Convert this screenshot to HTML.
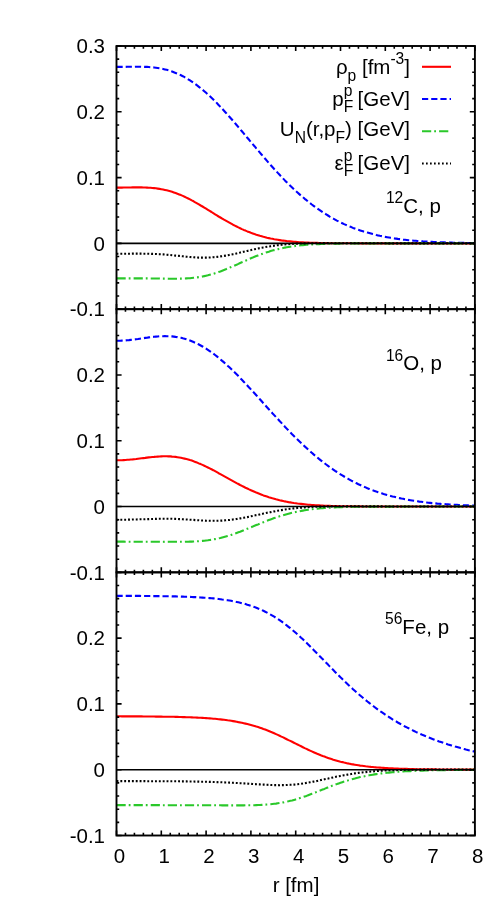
<!DOCTYPE html>
<html><head><meta charset="utf-8"><title>plot</title>
<style>html,body{margin:0;padding:0;background:#fff;overflow:hidden}body{width:498px;height:913px;position:relative;font-family:"Liberation Sans",sans-serif}</style>
</head><body>
<svg width="498" height="913" viewBox="0 0 498 913" style="display:block;position:absolute;left:0;top:0" font-family="'Liberation Sans', sans-serif" font-size="20.5" fill="#000">
<rect x="0" y="0" width="498" height="913" fill="#fff"/>
<defs><filter id="g" x="-5%" y="-5%" width="110%" height="110%" color-interpolation-filters="sRGB"><feColorMatrix type="saturate" values="0"/></filter><clipPath id="c0"><rect x="116.50" y="46.00" width="358.40" height="263.17"/></clipPath>
<clipPath id="c1"><rect x="116.50" y="309.17" width="358.40" height="263.17"/></clipPath>
<clipPath id="c2"><rect x="116.50" y="572.33" width="358.40" height="263.17"/></clipPath></defs>
<g clip-path="url(#c0)" fill="none" stroke-linejoin="round">
<path d="M116.5,187.6 L118.3,187.6 L120.1,187.6 L121.9,187.6 L123.7,187.5 L125.5,187.5 L127.3,187.5 L129.0,187.5 L130.8,187.5 L132.6,187.4 L134.4,187.4 L136.2,187.4 L138.0,187.4 L139.8,187.4 L141.6,187.4 L143.4,187.5 L145.2,187.5 L147.0,187.6 L148.8,187.7 L150.5,187.8 L152.3,188.0 L154.1,188.1 L155.9,188.3 L157.7,188.6 L159.5,188.9 L161.3,189.2 L163.1,189.5 L164.9,189.9 L166.7,190.3 L168.5,190.8 L170.3,191.3 L172.1,191.8 L173.8,192.4 L175.6,193.0 L177.4,193.7 L179.2,194.4 L181.0,195.1 L182.8,195.9 L184.6,196.7 L186.4,197.6 L188.2,198.5 L190.0,199.4 L191.8,200.4 L193.6,201.3 L195.3,202.3 L197.1,203.3 L198.9,204.4 L200.7,205.5 L202.5,206.5 L204.3,207.6 L206.1,208.7 L207.9,209.8 L209.7,210.9 L211.5,212.0 L213.3,213.2 L215.1,214.3 L216.9,215.4 L218.6,216.5 L220.4,217.5 L222.2,218.6 L224.0,219.7 L225.8,220.7 L227.6,221.7 L229.4,222.7 L231.2,223.7 L233.0,224.7 L234.8,225.6 L236.6,226.5 L238.4,227.4 L240.1,228.2 L241.9,229.1 L243.7,229.9 L245.5,230.6 L247.3,231.4 L249.1,232.1 L250.9,232.8 L252.7,233.4 L254.5,234.1 L256.3,234.7 L258.1,235.2 L259.9,235.8 L261.7,236.3 L263.4,236.8 L265.2,237.2 L267.0,237.7 L268.8,238.1 L270.6,238.5 L272.4,238.8 L274.2,239.2 L276.0,239.5 L277.8,239.8 L279.6,240.1 L281.4,240.4 L283.2,240.6 L284.9,240.8 L286.7,241.1 L288.5,241.2 L290.3,241.4 L292.1,241.6 L293.9,241.8 L295.7,241.9 L297.5,242.0 L299.3,242.2 L301.1,242.3 L302.9,242.4 L304.7,242.5 L306.5,242.6 L308.2,242.6 L310.0,242.7 L311.8,242.8 L313.6,242.8 L315.4,242.9 L317.2,242.9 L319.0,243.0 L320.8,243.0 L322.6,243.1 L324.4,243.1 L326.2,243.1 L328.0,243.2 L329.7,243.2 L331.5,243.2 L333.3,243.2 L335.1,243.2 L336.9,243.3 L338.7,243.3 L340.5,243.3 L342.3,243.3 L344.1,243.3 L345.9,243.3 L347.7,243.3 L349.5,243.3 L351.3,243.3 L353.0,243.3 L354.8,243.3 L356.6,243.3 L358.4,243.3 L360.2,243.4 L362.0,243.4 L363.8,243.4 L365.6,243.4 L367.4,243.4 L369.2,243.4 L371.0,243.4 L372.8,243.4 L374.5,243.4 L376.3,243.4 L378.1,243.4 L379.9,243.4 L381.7,243.4 L383.5,243.4 L385.3,243.4 L387.1,243.4 L388.9,243.4 L390.7,243.4 L392.5,243.4 L394.3,243.4 L396.1,243.4 L397.8,243.4 L399.6,243.4 L401.4,243.4 L403.2,243.4 L405.0,243.4 L406.8,243.4 L408.6,243.4 L410.4,243.4 L412.2,243.4 L414.0,243.4 L415.8,243.4 L417.6,243.4 L419.3,243.4 L421.1,243.4 L422.9,243.4 L424.7,243.4 L426.5,243.4 L428.3,243.4 L430.1,243.4 L431.9,243.4 L433.7,243.4 L435.5,243.4 L437.3,243.4 L439.1,243.4 L440.9,243.4 L442.6,243.4 L444.4,243.4 L446.2,243.4 L448.0,243.4 L449.8,243.4 L451.6,243.4 L453.4,243.4 L455.2,243.4 L457.0,243.4 L458.8,243.4 L460.6,243.4 L462.4,243.4 L464.1,243.4 L465.9,243.4 L467.7,243.4 L469.5,243.4 L471.3,243.4 L473.1,243.4 L474.9,243.4" stroke="#ff0000" stroke-width="2.1"/>
<path d="M116.5,66.9 L118.3,66.9 L120.1,66.9 L121.9,66.9 L123.7,66.9 L125.5,66.9 L127.3,66.8 L129.0,66.8 L130.8,66.8 L132.6,66.8 L134.4,66.8 L136.2,66.7 L138.0,66.7 L139.8,66.7 L141.6,66.8 L143.4,66.8 L145.2,66.9 L147.0,66.9 L148.8,67.0 L150.5,67.2 L152.3,67.3 L154.1,67.5 L155.9,67.7 L157.7,68.0 L159.5,68.3 L161.3,68.6 L163.1,69.0 L164.9,69.4 L166.7,69.8 L168.5,70.3 L170.3,70.9 L172.1,71.5 L173.8,72.2 L175.6,72.9 L177.4,73.6 L179.2,74.4 L181.0,75.3 L182.8,76.2 L184.6,77.2 L186.4,78.2 L188.2,79.3 L190.0,80.4 L191.8,81.6 L193.6,82.8 L195.3,84.1 L197.1,85.4 L198.9,86.8 L200.7,88.2 L202.5,89.7 L204.3,91.2 L206.1,92.8 L207.9,94.4 L209.7,96.1 L211.5,97.8 L213.3,99.5 L215.1,101.3 L216.9,103.1 L218.6,105.0 L220.4,106.9 L222.2,108.8 L224.0,110.7 L225.8,112.7 L227.6,114.7 L229.4,116.7 L231.2,118.7 L233.0,120.8 L234.8,122.9 L236.6,125.0 L238.4,127.1 L240.1,129.2 L241.9,131.3 L243.7,133.4 L245.5,135.6 L247.3,137.7 L249.1,139.8 L250.9,142.0 L252.7,144.1 L254.5,146.2 L256.3,148.4 L258.1,150.5 L259.9,152.6 L261.7,154.7 L263.4,156.8 L265.2,158.8 L267.0,160.9 L268.8,163.0 L270.6,165.0 L272.4,167.0 L274.2,169.0 L276.0,170.9 L277.8,172.9 L279.6,174.8 L281.4,176.7 L283.2,178.6 L284.9,180.4 L286.7,182.2 L288.5,184.0 L290.3,185.8 L292.1,187.5 L293.9,189.2 L295.7,190.9 L297.5,192.5 L299.3,194.1 L301.1,195.7 L302.9,197.2 L304.7,198.8 L306.5,200.2 L308.2,201.7 L310.0,203.1 L311.8,204.5 L313.6,205.8 L315.4,207.2 L317.2,208.5 L319.0,209.7 L320.8,210.9 L322.6,212.1 L324.4,213.3 L326.2,214.4 L328.0,215.5 L329.7,216.6 L331.5,217.6 L333.3,218.6 L335.1,219.6 L336.9,220.6 L338.7,221.5 L340.5,222.4 L342.3,223.2 L344.1,224.1 L345.9,224.9 L347.7,225.7 L349.5,226.4 L351.3,227.1 L353.0,227.9 L354.8,228.5 L356.6,229.2 L358.4,229.8 L360.2,230.4 L362.0,231.0 L363.8,231.6 L365.6,232.1 L367.4,232.6 L369.2,233.1 L371.0,233.6 L372.8,234.1 L374.5,234.5 L376.3,235.0 L378.1,235.4 L379.9,235.8 L381.7,236.1 L383.5,236.5 L385.3,236.9 L387.1,237.2 L388.9,237.5 L390.7,237.8 L392.5,238.1 L394.3,238.4 L396.1,238.6 L397.8,238.9 L399.6,239.1 L401.4,239.3 L403.2,239.6 L405.0,239.8 L406.8,240.0 L408.6,240.2 L410.4,240.3 L412.2,240.5 L414.0,240.7 L415.8,240.8 L417.6,241.0 L419.3,241.1 L421.1,241.2 L422.9,241.4 L424.7,241.5 L426.5,241.6 L428.3,241.7 L430.1,241.8 L431.9,241.9 L433.7,242.0 L435.5,242.1 L437.3,242.1 L439.1,242.2 L440.9,242.3 L442.6,242.4 L444.4,242.4 L446.2,242.5 L448.0,242.5 L449.8,242.6 L451.6,242.6 L453.4,242.7 L455.2,242.7 L457.0,242.8 L458.8,242.8 L460.6,242.9 L462.4,242.9 L464.1,242.9 L465.9,242.9 L467.7,243.0 L469.5,243.0 L471.3,243.0 L473.1,243.1 L474.9,243.1" stroke="#0000ff" stroke-width="2.1" stroke-dasharray="6.2 3"/>
<path d="M116.5,278.4 L118.3,278.4 L120.1,278.4 L121.9,278.4 L123.7,278.4 L125.5,278.4 L127.3,278.4 L129.0,278.4 L130.8,278.4 L132.6,278.4 L134.4,278.4 L136.2,278.4 L138.0,278.4 L139.8,278.4 L141.6,278.4 L143.4,278.4 L145.2,278.4 L147.0,278.4 L148.8,278.4 L150.5,278.5 L152.3,278.5 L154.1,278.5 L155.9,278.5 L157.7,278.5 L159.5,278.5 L161.3,278.6 L163.1,278.6 L164.9,278.6 L166.7,278.6 L168.5,278.7 L170.3,278.7 L172.1,278.7 L173.8,278.7 L175.6,278.7 L177.4,278.7 L179.2,278.6 L181.0,278.6 L182.8,278.6 L184.6,278.5 L186.4,278.4 L188.2,278.3 L190.0,278.2 L191.8,278.0 L193.6,277.8 L195.3,277.6 L197.1,277.4 L198.9,277.1 L200.7,276.8 L202.5,276.5 L204.3,276.1 L206.1,275.7 L207.9,275.3 L209.7,274.8 L211.5,274.3 L213.3,273.8 L215.1,273.2 L216.9,272.6 L218.6,272.0 L220.4,271.4 L222.2,270.7 L224.0,270.0 L225.8,269.3 L227.6,268.5 L229.4,267.8 L231.2,267.0 L233.0,266.2 L234.8,265.4 L236.6,264.7 L238.4,263.9 L240.1,263.0 L241.9,262.2 L243.7,261.4 L245.5,260.7 L247.3,259.9 L249.1,259.1 L250.9,258.3 L252.7,257.6 L254.5,256.8 L256.3,256.1 L258.1,255.4 L259.9,254.7 L261.7,254.1 L263.4,253.5 L265.2,252.8 L267.0,252.2 L268.8,251.7 L270.6,251.1 L272.4,250.6 L274.2,250.1 L276.0,249.7 L277.8,249.2 L279.6,248.8 L281.4,248.4 L283.2,248.0 L284.9,247.6 L286.7,247.3 L288.5,247.0 L290.3,246.7 L292.1,246.4 L293.9,246.2 L295.7,245.9 L297.5,245.7 L299.3,245.5 L301.1,245.3 L302.9,245.1 L304.7,245.0 L306.5,244.8 L308.2,244.7 L310.0,244.6 L311.8,244.4 L313.6,244.3 L315.4,244.2 L317.2,244.2 L319.0,244.1 L320.8,244.0 L322.6,243.9 L324.4,243.9 L326.2,243.8 L328.0,243.8 L329.7,243.7 L331.5,243.7 L333.3,243.7 L335.1,243.6 L336.9,243.6 L338.7,243.6 L340.5,243.5 L342.3,243.5 L344.1,243.5 L345.9,243.5 L347.7,243.5 L349.5,243.5 L351.3,243.5 L353.0,243.4 L354.8,243.4 L356.6,243.4 L358.4,243.4 L360.2,243.4 L362.0,243.4 L363.8,243.4 L365.6,243.4 L367.4,243.4 L369.2,243.4 L371.0,243.4 L372.8,243.4 L374.5,243.4 L376.3,243.4 L378.1,243.4 L379.9,243.4 L381.7,243.4 L383.5,243.4 L385.3,243.4 L387.1,243.4 L388.9,243.4 L390.7,243.4 L392.5,243.4 L394.3,243.4 L396.1,243.4 L397.8,243.4 L399.6,243.4 L401.4,243.4 L403.2,243.4 L405.0,243.4 L406.8,243.4 L408.6,243.4 L410.4,243.4 L412.2,243.4 L414.0,243.4 L415.8,243.4 L417.6,243.4 L419.3,243.4 L421.1,243.4 L422.9,243.4 L424.7,243.4 L426.5,243.4 L428.3,243.4 L430.1,243.4 L431.9,243.4 L433.7,243.4 L435.5,243.4 L437.3,243.4 L439.1,243.4 L440.9,243.4 L442.6,243.4 L444.4,243.4 L446.2,243.4 L448.0,243.4 L449.8,243.4 L451.6,243.4 L453.4,243.4 L455.2,243.4 L457.0,243.4 L458.8,243.4 L460.6,243.4 L462.4,243.4 L464.1,243.4 L465.9,243.4 L467.7,243.4 L469.5,243.4 L471.3,243.4 L473.1,243.4 L474.9,243.4" stroke="#2ac82a" stroke-width="2.1" stroke-dasharray="9.2 3 1.8 3.1"/>
<path d="M116.5,253.7 L118.3,253.7 L120.1,253.7 L121.9,253.7 L123.7,253.7 L125.5,253.7 L127.3,253.7 L129.0,253.7 L130.8,253.7 L132.6,253.6 L134.4,253.6 L136.2,253.6 L138.0,253.6 L139.8,253.6 L141.6,253.6 L143.4,253.7 L145.2,253.7 L147.0,253.7 L148.8,253.7 L150.5,253.8 L152.3,253.9 L154.1,253.9 L155.9,254.0 L157.7,254.1 L159.5,254.2 L161.3,254.3 L163.1,254.4 L164.9,254.6 L166.7,254.7 L168.5,254.9 L170.3,255.0 L172.1,255.2 L173.8,255.4 L175.6,255.6 L177.4,255.7 L179.2,255.9 L181.0,256.1 L182.8,256.3 L184.6,256.5 L186.4,256.7 L188.2,256.8 L190.0,257.0 L191.8,257.1 L193.6,257.3 L195.3,257.4 L197.1,257.5 L198.9,257.6 L200.7,257.6 L202.5,257.6 L204.3,257.6 L206.1,257.6 L207.9,257.6 L209.7,257.5 L211.5,257.4 L213.3,257.2 L215.1,257.1 L216.9,256.9 L218.6,256.7 L220.4,256.4 L222.2,256.2 L224.0,255.9 L225.8,255.6 L227.6,255.3 L229.4,254.9 L231.2,254.6 L233.0,254.2 L234.8,253.8 L236.6,253.4 L238.4,253.0 L240.1,252.6 L241.9,252.1 L243.7,251.7 L245.5,251.3 L247.3,250.9 L249.1,250.5 L250.9,250.1 L252.7,249.6 L254.5,249.2 L256.3,248.9 L258.1,248.5 L259.9,248.1 L261.7,247.8 L263.4,247.4 L265.2,247.1 L267.0,246.8 L268.8,246.5 L270.6,246.2 L272.4,245.9 L274.2,245.7 L276.0,245.4 L277.8,245.2 L279.6,245.0 L281.4,244.8 L283.2,244.6 L284.9,244.4 L286.7,244.3 L288.5,244.1 L290.3,244.0 L292.1,243.9 L293.9,243.8 L295.7,243.7 L297.5,243.6 L299.3,243.5 L301.1,243.5 L302.9,243.4 L304.7,243.4 L306.5,243.3 L308.2,243.3 L310.0,243.2 L311.8,243.2 L313.6,243.2 L315.4,243.2 L317.2,243.2 L319.0,243.2 L320.8,243.2 L322.6,243.1 L324.4,243.1 L326.2,243.1 L328.0,243.1 L329.7,243.2 L331.5,243.2 L333.3,243.2 L335.1,243.2 L336.9,243.2 L338.7,243.2 L340.5,243.2 L342.3,243.2 L344.1,243.2 L345.9,243.2 L347.7,243.2 L349.5,243.2 L351.3,243.2 L353.0,243.3 L354.8,243.3 L356.6,243.3 L358.4,243.3 L360.2,243.3 L362.0,243.3 L363.8,243.3 L365.6,243.3 L367.4,243.3 L369.2,243.3 L371.0,243.3 L372.8,243.3 L374.5,243.3 L376.3,243.3 L378.1,243.3 L379.9,243.3 L381.7,243.3 L383.5,243.3 L385.3,243.3 L387.1,243.3 L388.9,243.4 L390.7,243.4 L392.5,243.4 L394.3,243.4 L396.1,243.4 L397.8,243.4 L399.6,243.4 L401.4,243.4 L403.2,243.4 L405.0,243.4 L406.8,243.4 L408.6,243.4 L410.4,243.4 L412.2,243.4 L414.0,243.4 L415.8,243.4 L417.6,243.4 L419.3,243.4 L421.1,243.4 L422.9,243.4 L424.7,243.4 L426.5,243.4 L428.3,243.4 L430.1,243.4 L431.9,243.4 L433.7,243.4 L435.5,243.4 L437.3,243.4 L439.1,243.4 L440.9,243.4 L442.6,243.4 L444.4,243.4 L446.2,243.4 L448.0,243.4 L449.8,243.4 L451.6,243.4 L453.4,243.4 L455.2,243.4 L457.0,243.4 L458.8,243.4 L460.6,243.4 L462.4,243.4 L464.1,243.4 L465.9,243.4 L467.7,243.4 L469.5,243.4 L471.3,243.4 L473.1,243.4 L474.9,243.4" stroke="#000000" stroke-width="2.1" stroke-dasharray="1.9 1.95"/>
<path d="M116.50,243.38 L474.90,243.38" stroke="#000" stroke-width="1.6"/>
</g>
<g clip-path="url(#c1)" fill="none" stroke-linejoin="round">
<path d="M116.5,460.3 L118.3,460.2 L120.1,460.2 L121.9,460.2 L123.7,460.1 L125.5,460.0 L127.3,459.8 L129.0,459.7 L130.8,459.5 L132.6,459.4 L134.4,459.2 L136.2,459.0 L138.0,458.7 L139.8,458.5 L141.6,458.3 L143.4,458.1 L145.2,457.9 L147.0,457.6 L148.8,457.4 L150.5,457.2 L152.3,457.0 L154.1,456.9 L155.9,456.7 L157.7,456.6 L159.5,456.5 L161.3,456.4 L163.1,456.3 L164.9,456.3 L166.7,456.3 L168.5,456.4 L170.3,456.4 L172.1,456.6 L173.8,456.7 L175.6,456.9 L177.4,457.2 L179.2,457.5 L181.0,457.8 L182.8,458.2 L184.6,458.6 L186.4,459.0 L188.2,459.5 L190.0,460.1 L191.8,460.6 L193.6,461.3 L195.3,461.9 L197.1,462.6 L198.9,463.4 L200.7,464.1 L202.5,464.9 L204.3,465.7 L206.1,466.6 L207.9,467.5 L209.7,468.4 L211.5,469.3 L213.3,470.2 L215.1,471.2 L216.9,472.2 L218.6,473.2 L220.4,474.1 L222.2,475.1 L224.0,476.1 L225.8,477.1 L227.6,478.1 L229.4,479.1 L231.2,480.1 L233.0,481.1 L234.8,482.1 L236.6,483.1 L238.4,484.0 L240.1,485.0 L241.9,485.9 L243.7,486.8 L245.5,487.7 L247.3,488.5 L249.1,489.4 L250.9,490.2 L252.7,491.0 L254.5,491.8 L256.3,492.6 L258.1,493.3 L259.9,494.0 L261.7,494.7 L263.4,495.4 L265.2,496.0 L267.0,496.6 L268.8,497.2 L270.6,497.7 L272.4,498.3 L274.2,498.8 L276.0,499.3 L277.8,499.7 L279.6,500.2 L281.4,500.6 L283.2,501.0 L284.9,501.4 L286.7,501.7 L288.5,502.1 L290.3,502.4 L292.1,502.7 L293.9,503.0 L295.7,503.2 L297.5,503.5 L299.3,503.7 L301.1,503.9 L302.9,504.1 L304.7,504.3 L306.5,504.5 L308.2,504.7 L310.0,504.8 L311.8,505.0 L313.6,505.1 L315.4,505.2 L317.2,505.3 L319.0,505.4 L320.8,505.5 L322.6,505.6 L324.4,505.7 L326.2,505.8 L328.0,505.9 L329.7,505.9 L331.5,506.0 L333.3,506.0 L335.1,506.1 L336.9,506.1 L338.7,506.2 L340.5,506.2 L342.3,506.2 L344.1,506.3 L345.9,506.3 L347.7,506.3 L349.5,506.3 L351.3,506.4 L353.0,506.4 L354.8,506.4 L356.6,506.4 L358.4,506.4 L360.2,506.4 L362.0,506.5 L363.8,506.5 L365.6,506.5 L367.4,506.5 L369.2,506.5 L371.0,506.5 L372.8,506.5 L374.5,506.5 L376.3,506.5 L378.1,506.5 L379.9,506.5 L381.7,506.5 L383.5,506.5 L385.3,506.5 L387.1,506.5 L388.9,506.5 L390.7,506.5 L392.5,506.5 L394.3,506.5 L396.1,506.5 L397.8,506.5 L399.6,506.5 L401.4,506.5 L403.2,506.5 L405.0,506.5 L406.8,506.5 L408.6,506.5 L410.4,506.5 L412.2,506.5 L414.0,506.5 L415.8,506.5 L417.6,506.5 L419.3,506.5 L421.1,506.5 L422.9,506.5 L424.7,506.5 L426.5,506.5 L428.3,506.5 L430.1,506.5 L431.9,506.5 L433.7,506.5 L435.5,506.5 L437.3,506.5 L439.1,506.5 L440.9,506.5 L442.6,506.5 L444.4,506.5 L446.2,506.5 L448.0,506.5 L449.8,506.5 L451.6,506.5 L453.4,506.5 L455.2,506.5 L457.0,506.5 L458.8,506.5 L460.6,506.5 L462.4,506.5 L464.1,506.5 L465.9,506.5 L467.7,506.5 L469.5,506.5 L471.3,506.5 L473.1,506.5 L474.9,506.5" stroke="#ff0000" stroke-width="2.1"/>
<path d="M116.5,340.7 L118.3,340.7 L120.1,340.7 L121.9,340.6 L123.7,340.5 L125.5,340.4 L127.3,340.2 L129.0,340.1 L130.8,339.9 L132.6,339.7 L134.4,339.4 L136.2,339.2 L138.0,339.0 L139.8,338.7 L141.6,338.4 L143.4,338.2 L145.2,337.9 L147.0,337.7 L148.8,337.4 L150.5,337.2 L152.3,337.0 L154.1,336.8 L155.9,336.6 L157.7,336.5 L159.5,336.3 L161.3,336.2 L163.1,336.2 L164.9,336.1 L166.7,336.2 L168.5,336.2 L170.3,336.3 L172.1,336.4 L173.8,336.6 L175.6,336.9 L177.4,337.1 L179.2,337.5 L181.0,337.8 L182.8,338.3 L184.6,338.7 L186.4,339.3 L188.2,339.9 L190.0,340.5 L191.8,341.2 L193.6,342.0 L195.3,342.8 L197.1,343.6 L198.9,344.5 L200.7,345.5 L202.5,346.5 L204.3,347.6 L206.1,348.7 L207.9,349.9 L209.7,351.1 L211.5,352.3 L213.3,353.6 L215.1,355.0 L216.9,356.4 L218.6,357.8 L220.4,359.3 L222.2,360.9 L224.0,362.4 L225.8,364.0 L227.6,365.7 L229.4,367.3 L231.2,369.0 L233.0,370.8 L234.8,372.5 L236.6,374.3 L238.4,376.1 L240.1,378.0 L241.9,379.8 L243.7,381.7 L245.5,383.6 L247.3,385.5 L249.1,387.5 L250.9,389.4 L252.7,391.4 L254.5,393.3 L256.3,395.3 L258.1,397.3 L259.9,399.3 L261.7,401.3 L263.4,403.2 L265.2,405.2 L267.0,407.2 L268.8,409.2 L270.6,411.2 L272.4,413.2 L274.2,415.1 L276.0,417.1 L277.8,419.0 L279.6,421.0 L281.4,422.9 L283.2,424.8 L284.9,426.7 L286.7,428.6 L288.5,430.5 L290.3,432.3 L292.1,434.2 L293.9,436.0 L295.7,437.8 L297.5,439.5 L299.3,441.3 L301.1,443.0 L302.9,444.7 L304.7,446.4 L306.5,448.0 L308.2,449.7 L310.0,451.3 L311.8,452.8 L313.6,454.4 L315.4,455.9 L317.2,457.4 L319.0,458.9 L320.8,460.3 L322.6,461.7 L324.4,463.1 L326.2,464.5 L328.0,465.8 L329.7,467.1 L331.5,468.4 L333.3,469.6 L335.1,470.9 L336.9,472.0 L338.7,473.2 L340.5,474.3 L342.3,475.4 L344.1,476.5 L345.9,477.6 L347.7,478.6 L349.5,479.6 L351.3,480.6 L353.0,481.5 L354.8,482.4 L356.6,483.3 L358.4,484.2 L360.2,485.0 L362.0,485.9 L363.8,486.6 L365.6,487.4 L367.4,488.2 L369.2,488.9 L371.0,489.6 L372.8,490.3 L374.5,490.9 L376.3,491.6 L378.1,492.2 L379.9,492.8 L381.7,493.3 L383.5,493.9 L385.3,494.4 L387.1,494.9 L388.9,495.4 L390.7,495.9 L392.5,496.4 L394.3,496.8 L396.1,497.3 L397.8,497.7 L399.6,498.1 L401.4,498.5 L403.2,498.8 L405.0,499.2 L406.8,499.5 L408.6,499.9 L410.4,500.2 L412.2,500.5 L414.0,500.8 L415.8,501.0 L417.6,501.3 L419.3,501.6 L421.1,501.8 L422.9,502.0 L424.7,502.3 L426.5,502.5 L428.3,502.7 L430.1,502.9 L431.9,503.1 L433.7,503.2 L435.5,503.4 L437.3,503.6 L439.1,503.7 L440.9,503.9 L442.6,504.0 L444.4,504.1 L446.2,504.3 L448.0,504.4 L449.8,504.5 L451.6,504.6 L453.4,504.7 L455.2,504.8 L457.0,504.9 L458.8,505.0 L460.6,505.1 L462.4,505.2 L464.1,505.3 L465.9,505.3 L467.7,505.4 L469.5,505.5 L471.3,505.5 L473.1,505.6 L474.9,505.6" stroke="#0000ff" stroke-width="2.1" stroke-dasharray="6.2 3"/>
<path d="M116.5,541.6 L118.3,541.6 L120.1,541.6 L121.9,541.6 L123.7,541.6 L125.5,541.7 L127.3,541.7 L129.0,541.7 L130.8,541.7 L132.6,541.7 L134.4,541.7 L136.2,541.7 L138.0,541.8 L139.8,541.8 L141.6,541.8 L143.4,541.8 L145.2,541.8 L147.0,541.8 L148.8,541.8 L150.5,541.8 L152.3,541.8 L154.1,541.8 L155.9,541.8 L157.7,541.8 L159.5,541.8 L161.3,541.8 L163.1,541.8 L164.9,541.9 L166.7,541.9 L168.5,541.8 L170.3,541.8 L172.1,541.8 L173.8,541.8 L175.6,541.8 L177.4,541.8 L179.2,541.8 L181.0,541.8 L182.8,541.8 L184.6,541.8 L186.4,541.7 L188.2,541.7 L190.0,541.6 L191.8,541.6 L193.6,541.5 L195.3,541.4 L197.1,541.3 L198.9,541.2 L200.7,541.1 L202.5,540.9 L204.3,540.7 L206.1,540.5 L207.9,540.3 L209.7,540.0 L211.5,539.8 L213.3,539.5 L215.1,539.1 L216.9,538.8 L218.6,538.4 L220.4,538.0 L222.2,537.5 L224.0,537.0 L225.8,536.5 L227.6,536.0 L229.4,535.5 L231.2,534.9 L233.0,534.3 L234.8,533.7 L236.6,533.0 L238.4,532.3 L240.1,531.7 L241.9,531.0 L243.7,530.3 L245.5,529.5 L247.3,528.8 L249.1,528.1 L250.9,527.3 L252.7,526.6 L254.5,525.8 L256.3,525.1 L258.1,524.4 L259.9,523.6 L261.7,522.9 L263.4,522.2 L265.2,521.5 L267.0,520.8 L268.8,520.1 L270.6,519.4 L272.4,518.8 L274.2,518.1 L276.0,517.5 L277.8,516.9 L279.6,516.3 L281.4,515.7 L283.2,515.2 L284.9,514.7 L286.7,514.2 L288.5,513.7 L290.3,513.2 L292.1,512.8 L293.9,512.4 L295.7,512.0 L297.5,511.6 L299.3,511.3 L301.1,510.9 L302.9,510.6 L304.7,510.3 L306.5,510.0 L308.2,509.7 L310.0,509.5 L311.8,509.3 L313.6,509.0 L315.4,508.8 L317.2,508.7 L319.0,508.5 L320.8,508.3 L322.6,508.2 L324.4,508.0 L326.2,507.9 L328.0,507.8 L329.7,507.7 L331.5,507.6 L333.3,507.5 L335.1,507.4 L336.9,507.3 L338.7,507.2 L340.5,507.2 L342.3,507.1 L344.1,507.0 L345.9,507.0 L347.7,506.9 L349.5,506.9 L351.3,506.9 L353.0,506.8 L354.8,506.8 L356.6,506.8 L358.4,506.8 L360.2,506.7 L362.0,506.7 L363.8,506.7 L365.6,506.7 L367.4,506.7 L369.2,506.6 L371.0,506.6 L372.8,506.6 L374.5,506.6 L376.3,506.6 L378.1,506.6 L379.9,506.6 L381.7,506.6 L383.5,506.6 L385.3,506.6 L387.1,506.6 L388.9,506.6 L390.7,506.6 L392.5,506.6 L394.3,506.6 L396.1,506.6 L397.8,506.6 L399.6,506.6 L401.4,506.6 L403.2,506.6 L405.0,506.5 L406.8,506.5 L408.6,506.5 L410.4,506.5 L412.2,506.5 L414.0,506.5 L415.8,506.5 L417.6,506.5 L419.3,506.5 L421.1,506.5 L422.9,506.5 L424.7,506.5 L426.5,506.5 L428.3,506.5 L430.1,506.5 L431.9,506.5 L433.7,506.5 L435.5,506.5 L437.3,506.5 L439.1,506.5 L440.9,506.5 L442.6,506.5 L444.4,506.5 L446.2,506.5 L448.0,506.5 L449.8,506.5 L451.6,506.5 L453.4,506.5 L455.2,506.5 L457.0,506.5 L458.8,506.5 L460.6,506.5 L462.4,506.5 L464.1,506.5 L465.9,506.5 L467.7,506.5 L469.5,506.5 L471.3,506.5 L473.1,506.5 L474.9,506.5" stroke="#2ac82a" stroke-width="2.1" stroke-dasharray="9.2 3 1.8 3.1"/>
<path d="M116.5,519.7 L118.3,519.7 L120.1,519.7 L121.9,519.7 L123.7,519.7 L125.5,519.7 L127.3,519.7 L129.0,519.6 L130.8,519.6 L132.6,519.5 L134.4,519.5 L136.2,519.5 L138.0,519.4 L139.8,519.3 L141.6,519.3 L143.4,519.2 L145.2,519.2 L147.0,519.1 L148.8,519.1 L150.5,519.0 L152.3,519.0 L154.1,518.9 L155.9,518.9 L157.7,518.8 L159.5,518.8 L161.3,518.8 L163.1,518.8 L164.9,518.8 L166.7,518.8 L168.5,518.8 L170.3,518.8 L172.1,518.8 L173.8,518.9 L175.6,518.9 L177.4,519.0 L179.2,519.1 L181.0,519.2 L182.8,519.3 L184.6,519.4 L186.4,519.5 L188.2,519.6 L190.0,519.7 L191.8,519.8 L193.6,519.9 L195.3,520.1 L197.1,520.2 L198.9,520.3 L200.7,520.4 L202.5,520.5 L204.3,520.6 L206.1,520.7 L207.9,520.7 L209.7,520.8 L211.5,520.8 L213.3,520.8 L215.1,520.8 L216.9,520.8 L218.6,520.7 L220.4,520.6 L222.2,520.6 L224.0,520.4 L225.8,520.3 L227.6,520.1 L229.4,520.0 L231.2,519.7 L233.0,519.5 L234.8,519.3 L236.6,519.0 L238.4,518.7 L240.1,518.4 L241.9,518.1 L243.7,517.8 L245.5,517.4 L247.3,517.1 L249.1,516.7 L250.9,516.3 L252.7,515.9 L254.5,515.5 L256.3,515.1 L258.1,514.8 L259.9,514.4 L261.7,514.0 L263.4,513.6 L265.2,513.2 L267.0,512.8 L268.8,512.4 L270.6,512.1 L272.4,511.7 L274.2,511.4 L276.0,511.0 L277.8,510.7 L279.6,510.4 L281.4,510.1 L283.2,509.8 L284.9,509.5 L286.7,509.3 L288.5,509.0 L290.3,508.8 L292.1,508.6 L293.9,508.4 L295.7,508.2 L297.5,508.0 L299.3,507.8 L301.1,507.7 L302.9,507.5 L304.7,507.4 L306.5,507.2 L308.2,507.1 L310.0,507.0 L311.8,506.9 L313.6,506.8 L315.4,506.8 L317.2,506.7 L319.0,506.6 L320.8,506.6 L322.6,506.5 L324.4,506.5 L326.2,506.5 L328.0,506.4 L329.7,506.4 L331.5,506.4 L333.3,506.4 L335.1,506.3 L336.9,506.3 L338.7,506.3 L340.5,506.3 L342.3,506.3 L344.1,506.3 L345.9,506.3 L347.7,506.3 L349.5,506.3 L351.3,506.3 L353.0,506.3 L354.8,506.3 L356.6,506.3 L358.4,506.3 L360.2,506.4 L362.0,506.4 L363.8,506.4 L365.6,506.4 L367.4,506.4 L369.2,506.4 L371.0,506.4 L372.8,506.4 L374.5,506.4 L376.3,506.4 L378.1,506.4 L379.9,506.4 L381.7,506.4 L383.5,506.5 L385.3,506.5 L387.1,506.5 L388.9,506.5 L390.7,506.5 L392.5,506.5 L394.3,506.5 L396.1,506.5 L397.8,506.5 L399.6,506.5 L401.4,506.5 L403.2,506.5 L405.0,506.5 L406.8,506.5 L408.6,506.5 L410.4,506.5 L412.2,506.5 L414.0,506.5 L415.8,506.5 L417.6,506.5 L419.3,506.5 L421.1,506.5 L422.9,506.5 L424.7,506.5 L426.5,506.5 L428.3,506.5 L430.1,506.5 L431.9,506.5 L433.7,506.5 L435.5,506.5 L437.3,506.5 L439.1,506.5 L440.9,506.5 L442.6,506.5 L444.4,506.5 L446.2,506.5 L448.0,506.5 L449.8,506.5 L451.6,506.5 L453.4,506.5 L455.2,506.5 L457.0,506.5 L458.8,506.5 L460.6,506.5 L462.4,506.5 L464.1,506.5 L465.9,506.5 L467.7,506.5 L469.5,506.5 L471.3,506.5 L473.1,506.5 L474.9,506.5" stroke="#000000" stroke-width="2.1" stroke-dasharray="1.9 1.95"/>
<path d="M116.50,506.54 L474.90,506.54" stroke="#000" stroke-width="1.6"/>
</g>
<g clip-path="url(#c2)" fill="none" stroke-linejoin="round">
<path d="M116.5,716.3 L118.3,716.3 L120.1,716.3 L121.9,716.4 L123.7,716.4 L125.5,716.4 L127.3,716.4 L129.0,716.4 L130.8,716.4 L132.6,716.4 L134.4,716.4 L136.2,716.4 L138.0,716.4 L139.8,716.4 L141.6,716.4 L143.4,716.5 L145.2,716.5 L147.0,716.5 L148.8,716.5 L150.5,716.5 L152.3,716.5 L154.1,716.5 L155.9,716.6 L157.7,716.6 L159.5,716.6 L161.3,716.6 L163.1,716.7 L164.9,716.7 L166.7,716.7 L168.5,716.7 L170.3,716.8 L172.1,716.8 L173.8,716.8 L175.6,716.9 L177.4,716.9 L179.2,717.0 L181.0,717.0 L182.8,717.1 L184.6,717.1 L186.4,717.2 L188.2,717.2 L190.0,717.3 L191.8,717.4 L193.6,717.5 L195.3,717.5 L197.1,717.6 L198.9,717.7 L200.7,717.8 L202.5,717.9 L204.3,718.0 L206.1,718.1 L207.9,718.3 L209.7,718.4 L211.5,718.5 L213.3,718.7 L215.1,718.8 L216.9,719.0 L218.6,719.2 L220.4,719.4 L222.2,719.6 L224.0,719.8 L225.8,720.0 L227.6,720.3 L229.4,720.5 L231.2,720.8 L233.0,721.1 L234.8,721.4 L236.6,721.7 L238.4,722.1 L240.1,722.4 L241.9,722.8 L243.7,723.2 L245.5,723.6 L247.3,724.0 L249.1,724.5 L250.9,725.0 L252.7,725.5 L254.5,726.0 L256.3,726.6 L258.1,727.1 L259.9,727.7 L261.7,728.3 L263.4,729.0 L265.2,729.6 L267.0,730.3 L268.8,731.0 L270.6,731.8 L272.4,732.5 L274.2,733.3 L276.0,734.1 L277.8,734.9 L279.6,735.7 L281.4,736.6 L283.2,737.4 L284.9,738.3 L286.7,739.2 L288.5,740.1 L290.3,740.9 L292.1,741.8 L293.9,742.7 L295.7,743.6 L297.5,744.5 L299.3,745.4 L301.1,746.3 L302.9,747.2 L304.7,748.1 L306.5,748.9 L308.2,749.8 L310.0,750.6 L311.8,751.4 L313.6,752.2 L315.4,753.0 L317.2,753.8 L319.0,754.5 L320.8,755.3 L322.6,756.0 L324.4,756.6 L326.2,757.3 L328.0,757.9 L329.7,758.5 L331.5,759.1 L333.3,759.7 L335.1,760.2 L336.9,760.7 L338.7,761.2 L340.5,761.7 L342.3,762.1 L344.1,762.6 L345.9,763.0 L347.7,763.4 L349.5,763.7 L351.3,764.1 L353.0,764.4 L354.8,764.7 L356.6,765.0 L358.4,765.3 L360.2,765.6 L362.0,765.8 L363.8,766.0 L365.6,766.3 L367.4,766.5 L369.2,766.7 L371.0,766.9 L372.8,767.0 L374.5,767.2 L376.3,767.4 L378.1,767.5 L379.9,767.6 L381.7,767.8 L383.5,767.9 L385.3,768.0 L387.1,768.1 L388.9,768.2 L390.7,768.3 L392.5,768.4 L394.3,768.5 L396.1,768.6 L397.8,768.6 L399.6,768.7 L401.4,768.8 L403.2,768.8 L405.0,768.9 L406.8,768.9 L408.6,769.0 L410.4,769.0 L412.2,769.1 L414.0,769.1 L415.8,769.2 L417.6,769.2 L419.3,769.2 L421.1,769.3 L422.9,769.3 L424.7,769.3 L426.5,769.3 L428.3,769.4 L430.1,769.4 L431.9,769.4 L433.7,769.4 L435.5,769.4 L437.3,769.5 L439.1,769.5 L440.9,769.5 L442.6,769.5 L444.4,769.5 L446.2,769.5 L448.0,769.5 L449.8,769.6 L451.6,769.6 L453.4,769.6 L455.2,769.6 L457.0,769.6 L458.8,769.6 L460.6,769.6 L462.4,769.6 L464.1,769.6 L465.9,769.6 L467.7,769.6 L469.5,769.6 L471.3,769.6 L473.1,769.6 L474.9,769.6" stroke="#ff0000" stroke-width="2.1"/>
<path d="M116.5,595.8 L118.3,595.9 L120.1,595.9 L121.9,595.9 L123.7,595.9 L125.5,595.9 L127.3,595.9 L129.0,595.9 L130.8,595.9 L132.6,595.9 L134.4,595.9 L136.2,595.9 L138.0,595.9 L139.8,595.9 L141.6,596.0 L143.4,596.0 L145.2,596.0 L147.0,596.0 L148.8,596.0 L150.5,596.0 L152.3,596.1 L154.1,596.1 L155.9,596.1 L157.7,596.1 L159.5,596.1 L161.3,596.2 L163.1,596.2 L164.9,596.2 L166.7,596.2 L168.5,596.3 L170.3,596.3 L172.1,596.4 L173.8,596.4 L175.6,596.4 L177.4,596.5 L179.2,596.5 L181.0,596.6 L182.8,596.6 L184.6,596.7 L186.4,596.8 L188.2,596.8 L190.0,596.9 L191.8,597.0 L193.6,597.1 L195.3,597.1 L197.1,597.2 L198.9,597.3 L200.7,597.5 L202.5,597.6 L204.3,597.7 L206.1,597.8 L207.9,598.0 L209.7,598.1 L211.5,598.3 L213.3,598.4 L215.1,598.6 L216.9,598.8 L218.6,599.0 L220.4,599.2 L222.2,599.5 L224.0,599.7 L225.8,600.0 L227.6,600.2 L229.4,600.5 L231.2,600.8 L233.0,601.2 L234.8,601.5 L236.6,601.9 L238.4,602.3 L240.1,602.7 L241.9,603.2 L243.7,603.6 L245.5,604.1 L247.3,604.7 L249.1,605.2 L250.9,605.8 L252.7,606.4 L254.5,607.1 L256.3,607.7 L258.1,608.5 L259.9,609.2 L261.7,610.0 L263.4,610.8 L265.2,611.7 L267.0,612.6 L268.8,613.6 L270.6,614.6 L272.4,615.6 L274.2,616.7 L276.0,617.8 L277.8,618.9 L279.6,620.1 L281.4,621.4 L283.2,622.7 L284.9,624.0 L286.7,625.4 L288.5,626.8 L290.3,628.2 L292.1,629.7 L293.9,631.2 L295.7,632.8 L297.5,634.4 L299.3,636.0 L301.1,637.7 L302.9,639.3 L304.7,641.1 L306.5,642.8 L308.2,644.5 L310.0,646.3 L311.8,648.1 L313.6,649.9 L315.4,651.7 L317.2,653.6 L319.0,655.4 L320.8,657.2 L322.6,659.1 L324.4,660.9 L326.2,662.8 L328.0,664.6 L329.7,666.4 L331.5,668.3 L333.3,670.1 L335.1,671.9 L336.9,673.7 L338.7,675.5 L340.5,677.3 L342.3,679.0 L344.1,680.8 L345.9,682.5 L347.7,684.2 L349.5,685.9 L351.3,687.5 L353.0,689.2 L354.8,690.8 L356.6,692.4 L358.4,694.0 L360.2,695.5 L362.0,697.0 L363.8,698.5 L365.6,700.0 L367.4,701.5 L369.2,702.9 L371.0,704.3 L372.8,705.7 L374.5,707.0 L376.3,708.4 L378.1,709.7 L379.9,711.0 L381.7,712.2 L383.5,713.4 L385.3,714.7 L387.1,715.8 L388.9,717.0 L390.7,718.1 L392.5,719.3 L394.3,720.4 L396.1,721.4 L397.8,722.5 L399.6,723.5 L401.4,724.5 L403.2,725.5 L405.0,726.5 L406.8,727.4 L408.6,728.3 L410.4,729.2 L412.2,730.1 L414.0,731.0 L415.8,731.9 L417.6,732.7 L419.3,733.5 L421.1,734.3 L422.9,735.1 L424.7,735.8 L426.5,736.6 L428.3,737.3 L430.1,738.0 L431.9,738.7 L433.7,739.4 L435.5,740.1 L437.3,740.7 L439.1,741.4 L440.9,742.0 L442.6,742.6 L444.4,743.2 L446.2,743.8 L448.0,744.4 L449.8,744.9 L451.6,745.5 L453.4,746.0 L455.2,746.6 L457.0,747.1 L458.8,747.6 L460.6,748.1 L462.4,748.5 L464.1,749.0 L465.9,749.5 L467.7,749.9 L469.5,750.4 L471.3,750.8 L473.1,751.2 L474.9,751.6" stroke="#0000ff" stroke-width="2.1" stroke-dasharray="6.2 3"/>
<path d="M116.5,805.1 L118.3,805.1 L120.1,805.1 L121.9,805.1 L123.7,805.1 L125.5,805.1 L127.3,805.1 L129.0,805.1 L130.8,805.1 L132.6,805.1 L134.4,805.1 L136.2,805.1 L138.0,805.1 L139.8,805.1 L141.6,805.1 L143.4,805.1 L145.2,805.1 L147.0,805.1 L148.8,805.1 L150.5,805.1 L152.3,805.1 L154.1,805.1 L155.9,805.1 L157.7,805.1 L159.5,805.1 L161.3,805.2 L163.1,805.2 L164.9,805.2 L166.7,805.2 L168.5,805.2 L170.3,805.2 L172.1,805.2 L173.8,805.2 L175.6,805.2 L177.4,805.2 L179.2,805.2 L181.0,805.2 L182.8,805.2 L184.6,805.2 L186.4,805.2 L188.2,805.2 L190.0,805.2 L191.8,805.2 L193.6,805.2 L195.3,805.2 L197.1,805.2 L198.9,805.2 L200.7,805.3 L202.5,805.3 L204.3,805.3 L206.1,805.3 L207.9,805.3 L209.7,805.3 L211.5,805.3 L213.3,805.3 L215.1,805.3 L216.9,805.3 L218.6,805.3 L220.4,805.3 L222.2,805.4 L224.0,805.4 L225.8,805.4 L227.6,805.4 L229.4,805.4 L231.2,805.4 L233.0,805.4 L234.8,805.4 L236.6,805.4 L238.4,805.4 L240.1,805.4 L241.9,805.4 L243.7,805.4 L245.5,805.3 L247.3,805.3 L249.1,805.3 L250.9,805.3 L252.7,805.2 L254.5,805.2 L256.3,805.1 L258.1,805.0 L259.9,805.0 L261.7,804.9 L263.4,804.8 L265.2,804.6 L267.0,804.5 L268.8,804.4 L270.6,804.2 L272.4,804.0 L274.2,803.8 L276.0,803.6 L277.8,803.3 L279.6,803.0 L281.4,802.7 L283.2,802.4 L284.9,802.0 L286.7,801.7 L288.5,801.3 L290.3,800.8 L292.1,800.4 L293.9,799.9 L295.7,799.4 L297.5,798.9 L299.3,798.3 L301.1,797.7 L302.9,797.1 L304.7,796.5 L306.5,795.9 L308.2,795.2 L310.0,794.5 L311.8,793.8 L313.6,793.1 L315.4,792.4 L317.2,791.7 L319.0,791.0 L320.8,790.3 L322.6,789.6 L324.4,788.9 L326.2,788.1 L328.0,787.4 L329.7,786.7 L331.5,786.0 L333.3,785.4 L335.1,784.7 L336.9,784.1 L338.7,783.4 L340.5,782.8 L342.3,782.2 L344.1,781.6 L345.9,781.0 L347.7,780.5 L349.5,779.9 L351.3,779.4 L353.0,778.9 L354.8,778.5 L356.6,778.0 L358.4,777.6 L360.2,777.1 L362.0,776.7 L363.8,776.4 L365.6,776.0 L367.4,775.6 L369.2,775.3 L371.0,775.0 L372.8,774.7 L374.5,774.4 L376.3,774.1 L378.1,773.9 L379.9,773.6 L381.7,773.4 L383.5,773.2 L385.3,773.0 L387.1,772.8 L388.9,772.6 L390.7,772.4 L392.5,772.3 L394.3,772.1 L396.1,772.0 L397.8,771.8 L399.6,771.7 L401.4,771.6 L403.2,771.5 L405.0,771.3 L406.8,771.2 L408.6,771.1 L410.4,771.1 L412.2,771.0 L414.0,770.9 L415.8,770.8 L417.6,770.7 L419.3,770.7 L421.1,770.6 L422.9,770.6 L424.7,770.5 L426.5,770.5 L428.3,770.4 L430.1,770.4 L431.9,770.3 L433.7,770.3 L435.5,770.2 L437.3,770.2 L439.1,770.2 L440.9,770.2 L442.6,770.1 L444.4,770.1 L446.2,770.1 L448.0,770.0 L449.8,770.0 L451.6,770.0 L453.4,770.0 L455.2,770.0 L457.0,770.0 L458.8,769.9 L460.6,769.9 L462.4,769.9 L464.1,769.9 L465.9,769.9 L467.7,769.9 L469.5,769.9 L471.3,769.9 L473.1,769.8 L474.9,769.8" stroke="#2ac82a" stroke-width="2.1" stroke-dasharray="9.2 3 1.8 3.1"/>
<path d="M116.5,781.1 L118.3,781.1 L120.1,781.1 L121.9,781.1 L123.7,781.1 L125.5,781.1 L127.3,781.1 L129.0,781.1 L130.8,781.1 L132.6,781.1 L134.4,781.1 L136.2,781.1 L138.0,781.1 L139.8,781.1 L141.6,781.1 L143.4,781.1 L145.2,781.1 L147.0,781.2 L148.8,781.2 L150.5,781.2 L152.3,781.2 L154.1,781.2 L155.9,781.2 L157.7,781.2 L159.5,781.2 L161.3,781.2 L163.1,781.2 L164.9,781.2 L166.7,781.2 L168.5,781.3 L170.3,781.3 L172.1,781.3 L173.8,781.3 L175.6,781.3 L177.4,781.3 L179.2,781.3 L181.0,781.4 L182.8,781.4 L184.6,781.4 L186.4,781.4 L188.2,781.5 L190.0,781.5 L191.8,781.5 L193.6,781.5 L195.3,781.6 L197.1,781.6 L198.9,781.6 L200.7,781.7 L202.5,781.7 L204.3,781.7 L206.1,781.8 L207.9,781.8 L209.7,781.9 L211.5,781.9 L213.3,782.0 L215.1,782.0 L216.9,782.1 L218.6,782.2 L220.4,782.2 L222.2,782.3 L224.0,782.4 L225.8,782.5 L227.6,782.5 L229.4,782.6 L231.2,782.7 L233.0,782.8 L234.8,782.9 L236.6,783.0 L238.4,783.1 L240.1,783.2 L241.9,783.3 L243.7,783.4 L245.5,783.5 L247.3,783.6 L249.1,783.7 L250.9,783.9 L252.7,784.0 L254.5,784.1 L256.3,784.2 L258.1,784.3 L259.9,784.4 L261.7,784.5 L263.4,784.6 L265.2,784.7 L267.0,784.8 L268.8,784.9 L270.6,785.0 L272.4,785.0 L274.2,785.1 L276.0,785.1 L277.8,785.1 L279.6,785.2 L281.4,785.1 L283.2,785.1 L284.9,785.1 L286.7,785.0 L288.5,784.9 L290.3,784.8 L292.1,784.7 L293.9,784.6 L295.7,784.4 L297.5,784.2 L299.3,784.0 L301.1,783.8 L302.9,783.5 L304.7,783.2 L306.5,782.9 L308.2,782.6 L310.0,782.3 L311.8,782.0 L313.6,781.6 L315.4,781.3 L317.2,780.9 L319.0,780.5 L320.8,780.1 L322.6,779.7 L324.4,779.3 L326.2,778.9 L328.0,778.6 L329.7,778.2 L331.5,777.8 L333.3,777.4 L335.1,777.0 L336.9,776.6 L338.7,776.3 L340.5,775.9 L342.3,775.6 L344.1,775.2 L345.9,774.9 L347.7,774.6 L349.5,774.3 L351.3,774.0 L353.0,773.7 L354.8,773.4 L356.6,773.2 L358.4,772.9 L360.2,772.7 L362.0,772.5 L363.8,772.3 L365.6,772.1 L367.4,771.9 L369.2,771.7 L371.0,771.5 L372.8,771.4 L374.5,771.2 L376.3,771.1 L378.1,771.0 L379.9,770.8 L381.7,770.7 L383.5,770.6 L385.3,770.5 L387.1,770.4 L388.9,770.3 L390.7,770.3 L392.5,770.2 L394.3,770.1 L396.1,770.1 L397.8,770.0 L399.6,770.0 L401.4,769.9 L403.2,769.9 L405.0,769.8 L406.8,769.8 L408.6,769.8 L410.4,769.7 L412.2,769.7 L414.0,769.7 L415.8,769.7 L417.6,769.6 L419.3,769.6 L421.1,769.6 L422.9,769.6 L424.7,769.6 L426.5,769.6 L428.3,769.6 L430.1,769.6 L431.9,769.5 L433.7,769.5 L435.5,769.5 L437.3,769.5 L439.1,769.5 L440.9,769.5 L442.6,769.5 L444.4,769.5 L446.2,769.5 L448.0,769.5 L449.8,769.5 L451.6,769.5 L453.4,769.5 L455.2,769.5 L457.0,769.5 L458.8,769.5 L460.6,769.5 L462.4,769.5 L464.1,769.5 L465.9,769.6 L467.7,769.6 L469.5,769.6 L471.3,769.6 L473.1,769.6 L474.9,769.6" stroke="#000000" stroke-width="2.1" stroke-dasharray="1.9 1.95"/>
<path d="M116.50,769.71 L474.90,769.71" stroke="#000" stroke-width="1.6"/>
</g>
<path d="M116.50,309.17 v-5.10 M116.50,46.00 v5.10 M125.46,309.17 v-2.70 M125.46,46.00 v2.70 M134.42,309.17 v-2.70 M134.42,46.00 v2.70 M143.38,309.17 v-2.70 M143.38,46.00 v2.70 M152.34,309.17 v-2.70 M152.34,46.00 v2.70 M161.30,309.17 v-5.10 M161.30,46.00 v5.10 M170.26,309.17 v-2.70 M170.26,46.00 v2.70 M179.22,309.17 v-2.70 M179.22,46.00 v2.70 M188.18,309.17 v-2.70 M188.18,46.00 v2.70 M197.14,309.17 v-2.70 M197.14,46.00 v2.70 M206.10,309.17 v-5.10 M206.10,46.00 v5.10 M215.06,309.17 v-2.70 M215.06,46.00 v2.70 M224.02,309.17 v-2.70 M224.02,46.00 v2.70 M232.98,309.17 v-2.70 M232.98,46.00 v2.70 M241.94,309.17 v-2.70 M241.94,46.00 v2.70 M250.90,309.17 v-5.10 M250.90,46.00 v5.10 M259.86,309.17 v-2.70 M259.86,46.00 v2.70 M268.82,309.17 v-2.70 M268.82,46.00 v2.70 M277.78,309.17 v-2.70 M277.78,46.00 v2.70 M286.74,309.17 v-2.70 M286.74,46.00 v2.70 M295.70,309.17 v-5.10 M295.70,46.00 v5.10 M304.66,309.17 v-2.70 M304.66,46.00 v2.70 M313.62,309.17 v-2.70 M313.62,46.00 v2.70 M322.58,309.17 v-2.70 M322.58,46.00 v2.70 M331.54,309.17 v-2.70 M331.54,46.00 v2.70 M340.50,309.17 v-5.10 M340.50,46.00 v5.10 M349.46,309.17 v-2.70 M349.46,46.00 v2.70 M358.42,309.17 v-2.70 M358.42,46.00 v2.70 M367.38,309.17 v-2.70 M367.38,46.00 v2.70 M376.34,309.17 v-2.70 M376.34,46.00 v2.70 M385.30,309.17 v-5.10 M385.30,46.00 v5.10 M394.26,309.17 v-2.70 M394.26,46.00 v2.70 M403.22,309.17 v-2.70 M403.22,46.00 v2.70 M412.18,309.17 v-2.70 M412.18,46.00 v2.70 M421.14,309.17 v-2.70 M421.14,46.00 v2.70 M430.10,309.17 v-5.10 M430.10,46.00 v5.10 M439.06,309.17 v-2.70 M439.06,46.00 v2.70 M448.02,309.17 v-2.70 M448.02,46.00 v2.70 M456.98,309.17 v-2.70 M456.98,46.00 v2.70 M465.94,309.17 v-2.70 M465.94,46.00 v2.70 M474.90,309.17 v-5.10 M474.90,46.00 v5.10 M116.50,309.17 h5.10 M474.90,309.17 h-5.10 M116.50,296.01 h2.70 M474.90,296.01 h-2.70 M116.50,282.85 h2.70 M474.90,282.85 h-2.70 M116.50,269.69 h2.70 M474.90,269.69 h-2.70 M116.50,256.53 h2.70 M474.90,256.53 h-2.70 M116.50,243.38 h5.10 M474.90,243.38 h-5.10 M116.50,230.22 h2.70 M474.90,230.22 h-2.70 M116.50,217.06 h2.70 M474.90,217.06 h-2.70 M116.50,203.90 h2.70 M474.90,203.90 h-2.70 M116.50,190.74 h2.70 M474.90,190.74 h-2.70 M116.50,177.58 h5.10 M474.90,177.58 h-5.10 M116.50,164.43 h2.70 M474.90,164.43 h-2.70 M116.50,151.27 h2.70 M474.90,151.27 h-2.70 M116.50,138.11 h2.70 M474.90,138.11 h-2.70 M116.50,124.95 h2.70 M474.90,124.95 h-2.70 M116.50,111.79 h5.10 M474.90,111.79 h-5.10 M116.50,98.63 h2.70 M474.90,98.63 h-2.70 M116.50,85.47 h2.70 M474.90,85.47 h-2.70 M116.50,72.32 h2.70 M474.90,72.32 h-2.70 M116.50,59.16 h2.70 M474.90,59.16 h-2.70 M116.50,46.00 h5.10 M474.90,46.00 h-5.10 M116.50,572.33 v-5.10 M116.50,309.17 v5.10 M125.46,572.33 v-2.70 M125.46,309.17 v2.70 M134.42,572.33 v-2.70 M134.42,309.17 v2.70 M143.38,572.33 v-2.70 M143.38,309.17 v2.70 M152.34,572.33 v-2.70 M152.34,309.17 v2.70 M161.30,572.33 v-5.10 M161.30,309.17 v5.10 M170.26,572.33 v-2.70 M170.26,309.17 v2.70 M179.22,572.33 v-2.70 M179.22,309.17 v2.70 M188.18,572.33 v-2.70 M188.18,309.17 v2.70 M197.14,572.33 v-2.70 M197.14,309.17 v2.70 M206.10,572.33 v-5.10 M206.10,309.17 v5.10 M215.06,572.33 v-2.70 M215.06,309.17 v2.70 M224.02,572.33 v-2.70 M224.02,309.17 v2.70 M232.98,572.33 v-2.70 M232.98,309.17 v2.70 M241.94,572.33 v-2.70 M241.94,309.17 v2.70 M250.90,572.33 v-5.10 M250.90,309.17 v5.10 M259.86,572.33 v-2.70 M259.86,309.17 v2.70 M268.82,572.33 v-2.70 M268.82,309.17 v2.70 M277.78,572.33 v-2.70 M277.78,309.17 v2.70 M286.74,572.33 v-2.70 M286.74,309.17 v2.70 M295.70,572.33 v-5.10 M295.70,309.17 v5.10 M304.66,572.33 v-2.70 M304.66,309.17 v2.70 M313.62,572.33 v-2.70 M313.62,309.17 v2.70 M322.58,572.33 v-2.70 M322.58,309.17 v2.70 M331.54,572.33 v-2.70 M331.54,309.17 v2.70 M340.50,572.33 v-5.10 M340.50,309.17 v5.10 M349.46,572.33 v-2.70 M349.46,309.17 v2.70 M358.42,572.33 v-2.70 M358.42,309.17 v2.70 M367.38,572.33 v-2.70 M367.38,309.17 v2.70 M376.34,572.33 v-2.70 M376.34,309.17 v2.70 M385.30,572.33 v-5.10 M385.30,309.17 v5.10 M394.26,572.33 v-2.70 M394.26,309.17 v2.70 M403.22,572.33 v-2.70 M403.22,309.17 v2.70 M412.18,572.33 v-2.70 M412.18,309.17 v2.70 M421.14,572.33 v-2.70 M421.14,309.17 v2.70 M430.10,572.33 v-5.10 M430.10,309.17 v5.10 M439.06,572.33 v-2.70 M439.06,309.17 v2.70 M448.02,572.33 v-2.70 M448.02,309.17 v2.70 M456.98,572.33 v-2.70 M456.98,309.17 v2.70 M465.94,572.33 v-2.70 M465.94,309.17 v2.70 M474.90,572.33 v-5.10 M474.90,309.17 v5.10 M116.50,572.33 h5.10 M474.90,572.33 h-5.10 M116.50,559.18 h2.70 M474.90,559.18 h-2.70 M116.50,546.02 h2.70 M474.90,546.02 h-2.70 M116.50,532.86 h2.70 M474.90,532.86 h-2.70 M116.50,519.70 h2.70 M474.90,519.70 h-2.70 M116.50,506.54 h5.10 M474.90,506.54 h-5.10 M116.50,493.38 h2.70 M474.90,493.38 h-2.70 M116.50,480.23 h2.70 M474.90,480.23 h-2.70 M116.50,467.07 h2.70 M474.90,467.07 h-2.70 M116.50,453.91 h2.70 M474.90,453.91 h-2.70 M116.50,440.75 h5.10 M474.90,440.75 h-5.10 M116.50,427.59 h2.70 M474.90,427.59 h-2.70 M116.50,414.43 h2.70 M474.90,414.43 h-2.70 M116.50,401.27 h2.70 M474.90,401.27 h-2.70 M116.50,388.12 h2.70 M474.90,388.12 h-2.70 M116.50,374.96 h5.10 M474.90,374.96 h-5.10 M116.50,361.80 h2.70 M474.90,361.80 h-2.70 M116.50,348.64 h2.70 M474.90,348.64 h-2.70 M116.50,335.48 h2.70 M474.90,335.48 h-2.70 M116.50,322.33 h2.70 M474.90,322.33 h-2.70 M116.50,309.17 h5.10 M474.90,309.17 h-5.10 M116.50,835.50 v-5.10 M116.50,572.33 v5.10 M125.46,835.50 v-2.70 M125.46,572.33 v2.70 M134.42,835.50 v-2.70 M134.42,572.33 v2.70 M143.38,835.50 v-2.70 M143.38,572.33 v2.70 M152.34,835.50 v-2.70 M152.34,572.33 v2.70 M161.30,835.50 v-5.10 M161.30,572.33 v5.10 M170.26,835.50 v-2.70 M170.26,572.33 v2.70 M179.22,835.50 v-2.70 M179.22,572.33 v2.70 M188.18,835.50 v-2.70 M188.18,572.33 v2.70 M197.14,835.50 v-2.70 M197.14,572.33 v2.70 M206.10,835.50 v-5.10 M206.10,572.33 v5.10 M215.06,835.50 v-2.70 M215.06,572.33 v2.70 M224.02,835.50 v-2.70 M224.02,572.33 v2.70 M232.98,835.50 v-2.70 M232.98,572.33 v2.70 M241.94,835.50 v-2.70 M241.94,572.33 v2.70 M250.90,835.50 v-5.10 M250.90,572.33 v5.10 M259.86,835.50 v-2.70 M259.86,572.33 v2.70 M268.82,835.50 v-2.70 M268.82,572.33 v2.70 M277.78,835.50 v-2.70 M277.78,572.33 v2.70 M286.74,835.50 v-2.70 M286.74,572.33 v2.70 M295.70,835.50 v-5.10 M295.70,572.33 v5.10 M304.66,835.50 v-2.70 M304.66,572.33 v2.70 M313.62,835.50 v-2.70 M313.62,572.33 v2.70 M322.58,835.50 v-2.70 M322.58,572.33 v2.70 M331.54,835.50 v-2.70 M331.54,572.33 v2.70 M340.50,835.50 v-5.10 M340.50,572.33 v5.10 M349.46,835.50 v-2.70 M349.46,572.33 v2.70 M358.42,835.50 v-2.70 M358.42,572.33 v2.70 M367.38,835.50 v-2.70 M367.38,572.33 v2.70 M376.34,835.50 v-2.70 M376.34,572.33 v2.70 M385.30,835.50 v-5.10 M385.30,572.33 v5.10 M394.26,835.50 v-2.70 M394.26,572.33 v2.70 M403.22,835.50 v-2.70 M403.22,572.33 v2.70 M412.18,835.50 v-2.70 M412.18,572.33 v2.70 M421.14,835.50 v-2.70 M421.14,572.33 v2.70 M430.10,835.50 v-5.10 M430.10,572.33 v5.10 M439.06,835.50 v-2.70 M439.06,572.33 v2.70 M448.02,835.50 v-2.70 M448.02,572.33 v2.70 M456.98,835.50 v-2.70 M456.98,572.33 v2.70 M465.94,835.50 v-2.70 M465.94,572.33 v2.70 M474.90,835.50 v-5.10 M474.90,572.33 v5.10 M116.50,835.50 h5.10 M474.90,835.50 h-5.10 M116.50,822.34 h2.70 M474.90,822.34 h-2.70 M116.50,809.18 h2.70 M474.90,809.18 h-2.70 M116.50,796.02 h2.70 M474.90,796.02 h-2.70 M116.50,782.87 h2.70 M474.90,782.87 h-2.70 M116.50,769.71 h5.10 M474.90,769.71 h-5.10 M116.50,756.55 h2.70 M474.90,756.55 h-2.70 M116.50,743.39 h2.70 M474.90,743.39 h-2.70 M116.50,730.23 h2.70 M474.90,730.23 h-2.70 M116.50,717.08 h2.70 M474.90,717.08 h-2.70 M116.50,703.92 h5.10 M474.90,703.92 h-5.10 M116.50,690.76 h2.70 M474.90,690.76 h-2.70 M116.50,677.60 h2.70 M474.90,677.60 h-2.70 M116.50,664.44 h2.70 M474.90,664.44 h-2.70 M116.50,651.28 h2.70 M474.90,651.28 h-2.70 M116.50,638.12 h5.10 M474.90,638.12 h-5.10 M116.50,624.97 h2.70 M474.90,624.97 h-2.70 M116.50,611.81 h2.70 M474.90,611.81 h-2.70 M116.50,598.65 h2.70 M474.90,598.65 h-2.70 M116.50,585.49 h2.70 M474.90,585.49 h-2.70 M116.50,572.33 h5.10 M474.90,572.33 h-5.10" stroke="#000" stroke-width="1.6" fill="none"/>
<rect x="116.50" y="46.00" width="358.40" height="263.17" fill="none" stroke="#000" stroke-width="1.9"/>
<rect x="116.50" y="309.17" width="358.40" height="263.17" fill="none" stroke="#000" stroke-width="1.9"/>
<rect x="116.50" y="572.33" width="358.40" height="263.17" fill="none" stroke="#000" stroke-width="1.9"/>
<g filter="url(#g)">
<text x="105" y="53.20" text-anchor="end">0.3</text>
<text x="105" y="118.99" text-anchor="end">0.2</text>
<text x="105" y="184.78" text-anchor="end">0.1</text>
<text x="105" y="250.57" text-anchor="end">0</text>
<text x="105" y="316.37" text-anchor="end">-0.1</text>
<text x="105" y="382.16" text-anchor="end">0.2</text>
<text x="105" y="447.95" text-anchor="end">0.1</text>
<text x="105" y="513.74" text-anchor="end">0</text>
<text x="105" y="579.53" text-anchor="end">-0.1</text>
<text x="105" y="645.33" text-anchor="end">0.2</text>
<text x="105" y="711.12" text-anchor="end">0.1</text>
<text x="105" y="776.91" text-anchor="end">0</text>
<text x="105" y="842.70" text-anchor="end">-0.1</text>
<text x="119.40" y="862.7" text-anchor="middle">0</text>
<text x="164.20" y="862.7" text-anchor="middle">1</text>
<text x="209.00" y="862.7" text-anchor="middle">2</text>
<text x="253.80" y="862.7" text-anchor="middle">3</text>
<text x="298.60" y="862.7" text-anchor="middle">4</text>
<text x="343.40" y="862.7" text-anchor="middle">5</text>
<text x="388.20" y="862.7" text-anchor="middle">6</text>
<text x="433.00" y="862.7" text-anchor="middle">7</text>
<text x="477.80" y="862.7" text-anchor="middle">8</text>
<text x="296" y="892" text-anchor="middle">r [fm]</text>
</g>
<g fill="none" stroke-width="2.1">
<path d="M422,66.8 H451" stroke="#ff0000"/>
<path d="M422,99 H451" stroke="#0000ff" stroke-dasharray="6.2 3"/>
<path d="M422,131.3 H451" stroke="#2ac82a" stroke-dasharray="9.2 3 1.8 3.1"/>
<path d="M422,163.5 H451" stroke="#000000" stroke-dasharray="1.7 2.3"/>
</g>
<g filter="url(#g)">
<text x="410.00" y="73.70" text-anchor="end" xml:space="preserve">ρ<tspan dy="6.8" font-size="15.6">p</tspan><tspan dy="-6.8"> [fm</tspan><tspan dy="-9.5" font-size="15.6">-3</tspan><tspan dy="9.5">]</tspan></text>
<text x="410.00" y="105.80" text-anchor="end" xml:space="preserve">p<tspan dy="-9.7" font-size="15.6">p</tspan><tspan dx="-8.6736" dy="15.6" font-size="15.6">F</tspan><tspan dx="-1.3" dy="-5.9"> [GeV]</tspan></text>
<text x="410.00" y="136.20" text-anchor="end" xml:space="preserve">U<tspan dy="6.8" font-size="15.6">N</tspan><tspan dy="-6.8">(r,p</tspan><tspan dy="6.8" font-size="15.6">F</tspan><tspan dy="-6.8">) [GeV]</tspan></text>
<text x="410.00" y="170.30" text-anchor="end" xml:space="preserve">ε<tspan dy="-9.7" font-size="15.6">p</tspan><tspan dx="-8.6736" dy="15.6" font-size="15.6">F</tspan><tspan dx="-1.3" dy="-5.9"> [GeV]</tspan></text>
<text x="385.90" y="212.50" text-anchor="start" xml:space="preserve"><tspan dy="-9.5" font-size="15.6">12</tspan><tspan dy="9.5">C, p</tspan></text>
<text x="385.90" y="370.20" text-anchor="start" xml:space="preserve"><tspan dy="-9.5" font-size="15.6">16</tspan><tspan dy="9.5">O, p</tspan></text>
<text x="385.00" y="633.50" text-anchor="start" xml:space="preserve"><tspan dy="-9.5" font-size="15.6">56</tspan><tspan dy="9.5">Fe, p</tspan></text>
</g>
</svg>
</body></html>
